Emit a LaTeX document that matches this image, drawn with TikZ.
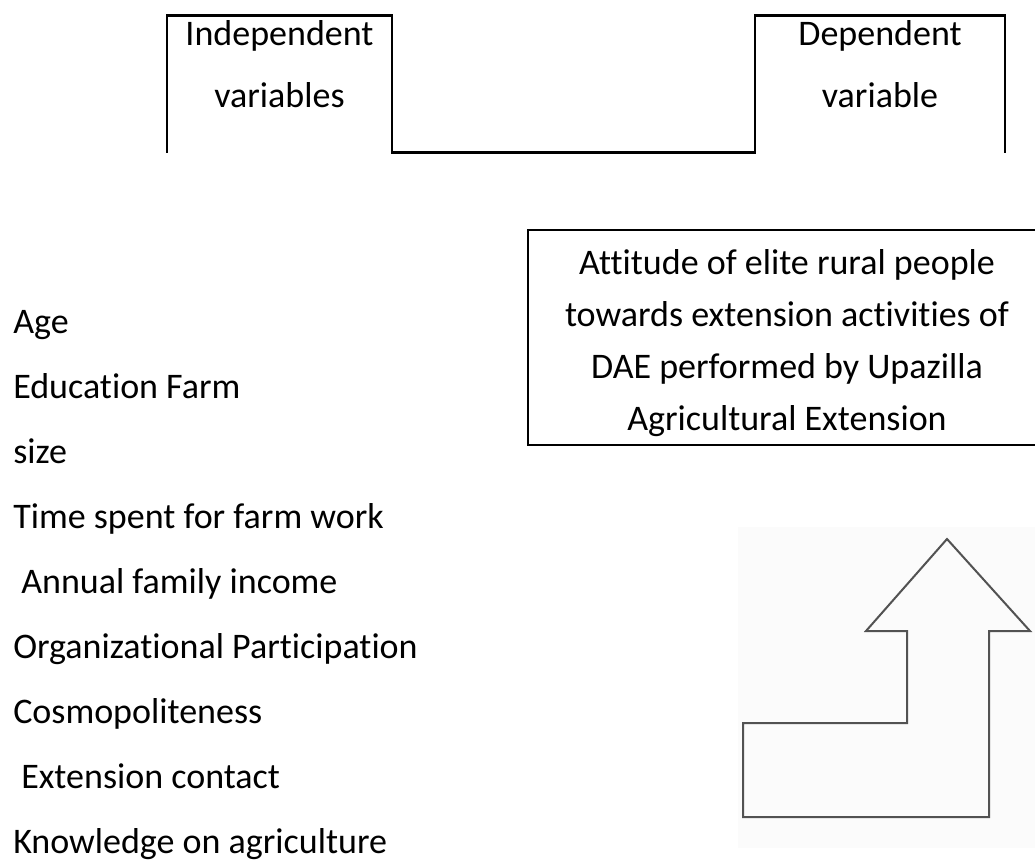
\documentclass[tikz,border=0pt]{standalone}
\usepackage{fontspec}
\setmainfont{Carlito}[Ligatures=NoCommon]
\begin{document}
\begin{tikzpicture}[x=0.75pt,y=-0.75pt,
  txt/.style={font=\fontsize{27}{32}\selectfont, inner sep=0pt, text=black},
  lst/.style={txt, anchor=base west},
  ctr/.style={txt, anchor=base},
  frame/.style={draw=black, line width=1.9pt},
  arrowshape/.style={draw=black!68, line width=1.5pt, line join=miter}]
\useasboundingbox (0,0) rectangle (1035,864);

% scanned area behind the arrow
\fill[black!1.5] (738,527) rectangle (1035,848);

% header frame
\draw[frame] (167,152.5) -- (167,15.7) -- (392,15.7) -- (392,152.5) -- (755,152.5)
  -- (755,15.7) -- (1005,15.7) -- (1005,152.5);
\node[ctr] (ind1) at (279.5,45) {Independent};
\node[ctr] (ind2) at (279.5,107) {variables};
\node[ctr] (dep1) at (880,45) {Dependent};
\node[ctr] (dep2) at (880,107) {variable};

% dependent variable box (runs past the right edge)
\draw[frame] (1040,230) -- (528,230) -- (528,445) -- (1040,445);
\node[ctr] (att1) at (787,274) {Attitude of elite rural people};
\node[ctr] (att2) at (787,326) {towards extension activities of};
\node[ctr] (att3) at (787,378) {DAE performed by Upazilla};
\node[ctr] (att4) at (787,430) {Agricultural Extension};

% independent variables list
\node[lst] (v1) at (13,333) {Age};
\node[lst] (v2) at (13,398) {Education Farm};
\node[lst] (v3) at (13,463) {size};
\node[lst] (v4) at (13,528) {Time spent for farm work};
\node[lst] (v5) at (21,593) {Annual family income};
\node[lst] (v6) at (13,658) {Organizational Participation};
\node[lst] (v7) at (13,723) {Cosmopoliteness};
\node[lst] (v8) at (21,788) {Extension contact};
\node[lst] (v9) at (13,853) {Knowledge on agriculture};

% bent arrow
\coordinate (tip) at (947,539);
\draw[arrowshape] (tip) -- (1030,631) -- (989,631) -- (989,817) -- (743,817)
  -- (743,723) -- (907,723) -- (907,631) -- (866,631) -- cycle;
\end{tikzpicture}
\end{document}
